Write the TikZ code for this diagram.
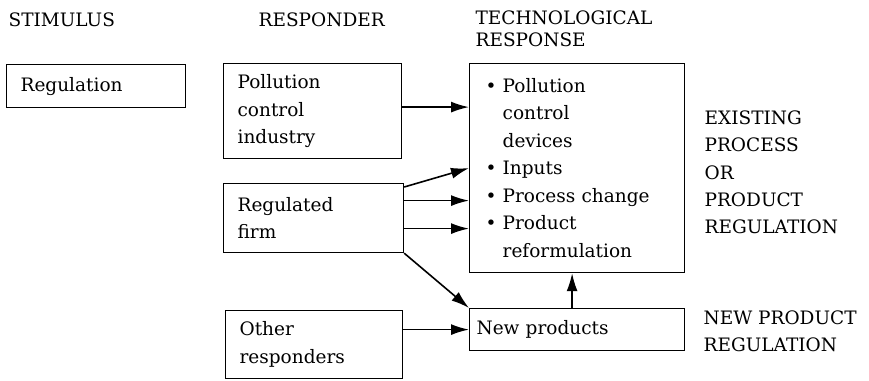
\documentclass[tikz,border=0pt]{standalone}
\usepackage{fontspec}
\setmainfont{DejaVu Serif}
\usepackage{tikz}
\usetikzlibrary{arrows.meta}
\usetikzlibrary{positioning}
\begin{document}
\begin{tikzpicture}[x=1pt, y=-1pt, line width=1.2pt,
  every node/.style={font=\fontsize{18.5}{27.5}\selectfont},
  box/.style={draw, anchor=north west, align=left, inner xsep=14pt, inner ysep=0pt},
  head/.style={anchor=west, align=left, inner sep=0pt},
  arr/.style={-{Latex[length=18pt,width=11pt]}, line width=1.6pt}]
\useasboundingbox (0,0) rectangle (869,380);
\node[head] (stim) at (8,20) {STIMULUS};
\node[head] (resp) at (258,20) {RESPONDER};
\node[head, font=\fontsize{18.5}{22}\selectfont] (tresp) at (475,29) {TECHNOLOGICAL\\RESPONSE};
\node[box, text width=151pt, minimum height=43pt] (reg) at (6,64) {Regulation};
\node[box, text width=150pt, minimum height=95pt] (pci) at (223,63) {Pollution\\control\\industry};
\node[box, text width=152pt, minimum height=69pt] (firm) at (223,183) {Regulated\\firm};
\node[box, text width=149pt, minimum height=68pt] (other) at (225,310) {Other\\responders};
\node[box, text width=183pt, inner xsep=16pt, minimum height=209pt] (tech) at (469,63) {\textbullet\ Pollution\\\hphantom{\textbullet\ }control\\\hphantom{\textbullet\ }devices\\\textbullet\ Inputs\\\textbullet\ Process change\\\textbullet\ Product\\\hphantom{\textbullet\ }reformulation};
\node[box, text width=201pt, inner xsep=7pt, minimum height=42pt] (np) at (469,308) {New products};
\node[head, font=\fontsize{18.5}{27.25}\selectfont] (exist) at (704,172.5) {EXISTING\\PROCESS\\OR\\PRODUCT\\REGULATION};
\node[head, font=\fontsize{18.5}{27}\selectfont] (newreg) at (703,331.5) {NEW PRODUCT\\REGULATION};
\draw[arr] ([yshift=4pt]pci.east) -- ([yshift=4pt]pci.east -| tech.west);
\draw[arr] ([yshift=-4pt]firm.north east) -- (tech.west);
\draw[arr] ([yshift=17.5pt]firm.east) -- ([yshift=17.5pt]firm.east -| tech.west);
\draw[arr] ([yshift=-10.5pt]firm.east) -- ([yshift=-10.5pt]firm.east -| tech.west);
\draw[arr] (firm.south east) -- (np.north west);
\draw[arr] (np.west -| other.east) -- (np.west);
\draw[arr] ([xshift=-5pt]np.north) -- ([xshift=-5pt]np.north |- tech.south);
\end{tikzpicture}
\end{document}
